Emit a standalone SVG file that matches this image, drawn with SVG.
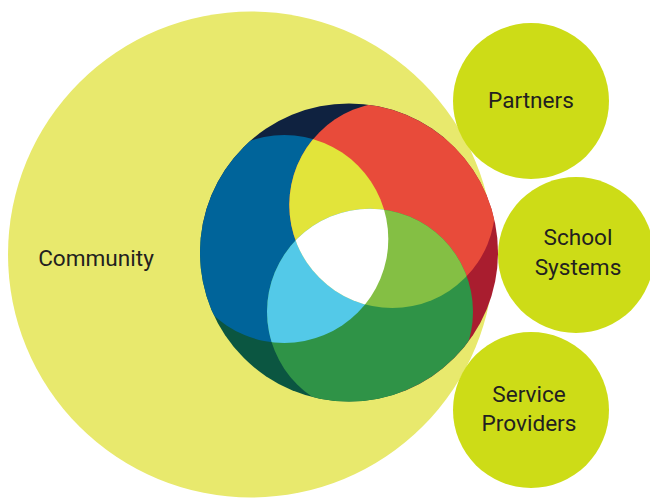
<svg xmlns="http://www.w3.org/2000/svg" width="650" height="498" viewBox="0 0 650 498">
  <style>
    .label { font-family: Roboto, "Liberation Sans", sans-serif; font-size: 22.6px; fill: #231F20; text-anchor: middle; }
    .side { fill: #CDDC17; }
  </style>
  <defs>
    <clipPath id="clip-core"><circle cx="349" cy="252.5" r="149"/></clipPath>
    <clipPath id="clip-b"><circle cx="284.3" cy="239" r="104"/></clipPath>
    <clipPath id="clip-r"><circle cx="392.3" cy="205" r="103"/></clipPath>
  </defs>
  <rect width="650" height="498" fill="#FFFFFF"/>

  <!-- large community circle -->
  <g id="community">
    <circle cx="251" cy="254.5" r="243" fill="#E8E96D"/>
    <text class="label" x="96" y="265.5">Community</text>
  </g>

  <!-- central overlapping rings -->
  <g id="core" clip-path="url(#clip-core)">
    <path d="M349 252.5 L199.3 226.1 A152 152 0 0 1 446.7 136.1 Z" fill="#0F2240"/>
    <path d="M349 252.5 L446.7 136.1 A152 152 0 0 1 401 395.3 Z" fill="#A91D2F"/>
    <path d="M349 252.5 L401 395.3 A152 152 0 0 1 199.3 226.1 Z" fill="#0B5641"/>
    <circle cx="284.3" cy="239" r="104" fill="#00649A"/>
    <circle cx="392.3" cy="205" r="103" fill="#E84B3A"/>
    <circle cx="370" cy="311.7" r="103" fill="#2F9347"/>
    <!-- pairwise overlaps -->
    <circle cx="392.3" cy="205" r="103" fill="#E2E43A" clip-path="url(#clip-b)"/>
    <circle cx="370" cy="311.7" r="103" fill="#53C9E8" clip-path="url(#clip-b)"/>
    <circle cx="370" cy="311.7" r="103" fill="#84BF44" clip-path="url(#clip-r)"/>
    <!-- triple overlap -->
    <g clip-path="url(#clip-b)">
      <circle cx="370" cy="311.7" r="103" fill="#FFFFFF" clip-path="url(#clip-r)"/>
    </g>
  </g>

  <g id="partners">
    <circle class="side" cx="531" cy="101" r="78"/>
    <text class="label" x="531" y="108">Partners</text>
  </g>

  <g id="school-systems">
    <circle class="side" cx="576" cy="255" r="78"/>
    <text class="label" x="578" y="245">School</text>
    <text class="label" x="578" y="275">Systems</text>
  </g>

  <g id="service-providers">
    <circle class="side" cx="531" cy="410" r="78"/>
    <text class="label" x="529" y="402">Service</text>
    <text class="label" x="529" y="431">Providers</text>
  </g>
</svg>
